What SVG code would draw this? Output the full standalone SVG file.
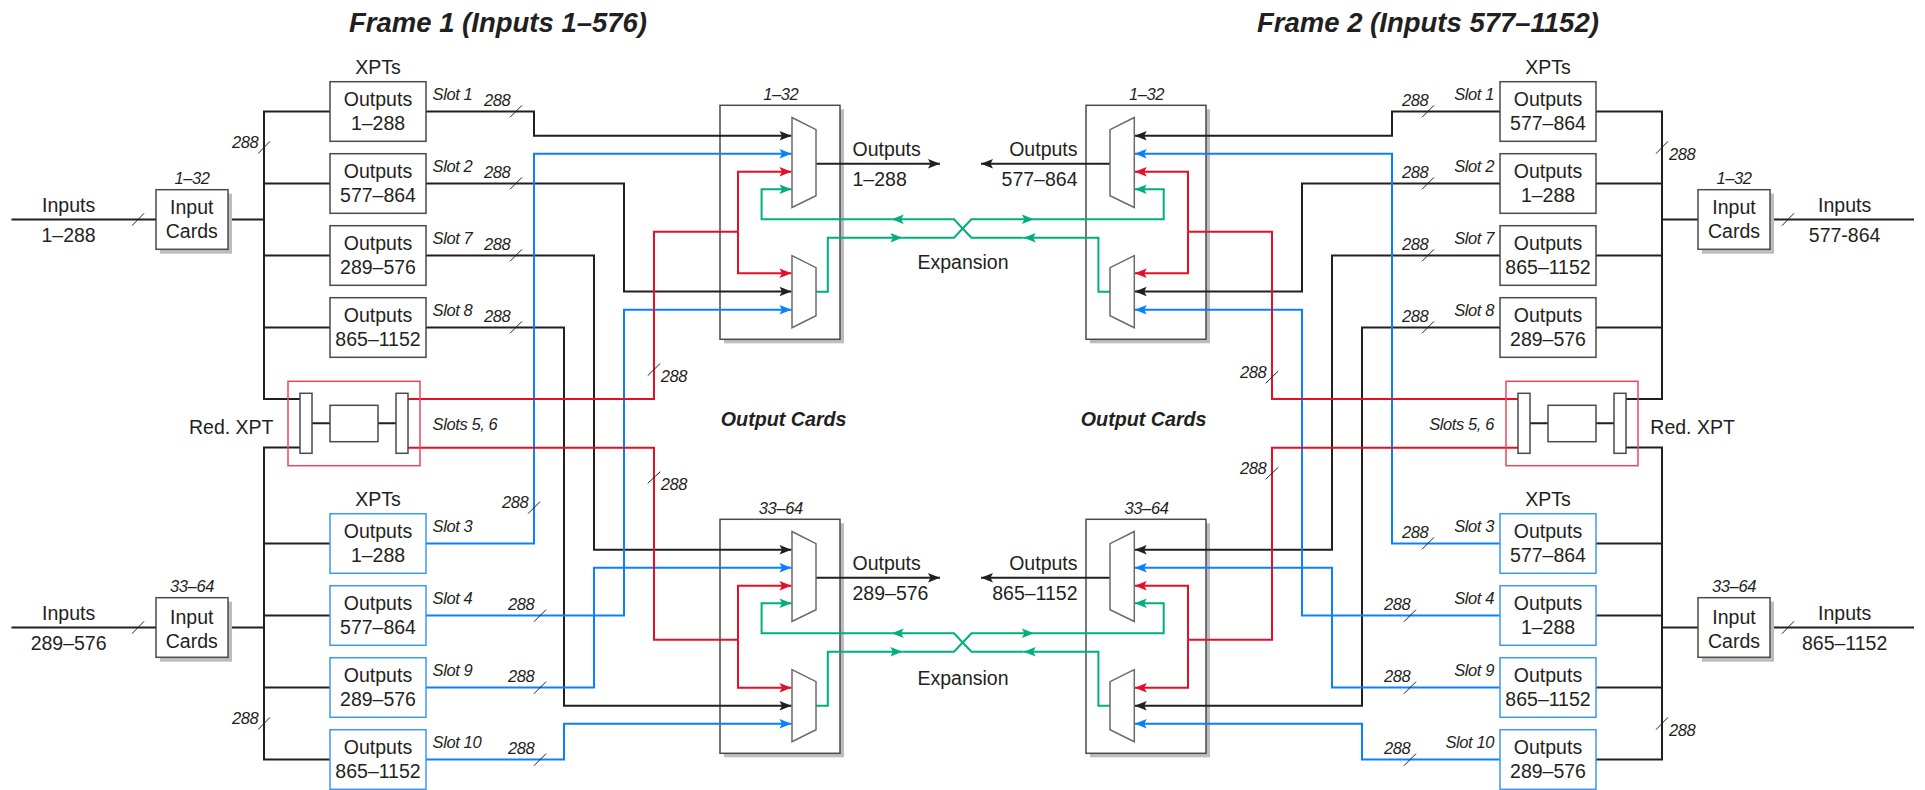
<svg xmlns="http://www.w3.org/2000/svg" width="1925" height="790" viewBox="0 0 1925 790">
<style>
text{font-family:"Liberation Sans",Arial,sans-serif;fill:#231f20;font-size:19.5px}
.m{text-anchor:middle}.e{text-anchor:end}
.i{font-style:italic;font-size:16.5px;letter-spacing:-.4px}
.t{font-style:italic;font-weight:bold;font-size:27.5px}
.oc{font-style:italic;font-weight:bold;font-size:19.7px}
.box{fill:#fff;stroke:#4a4a4a;stroke-width:1.5}
.bb{fill:#fff;stroke:#3d96ff;stroke-width:1.5}
.sh{fill:#bcbdc1}
.mux{fill:#fff;stroke:#6a6a6a;stroke-width:1.5;stroke-linejoin:miter}
.red{fill:none;stroke:#e8485c;stroke-width:1.5}
.w{fill:none;stroke-width:2}
.k{stroke:#231f20}.b{stroke:#0a80ff}.r{stroke:#e60f27}.g{stroke:#00ae80}
.tk{stroke:#231f20;stroke-width:1;fill:none}
</style>
<defs>
<marker id="ak" markerUnits="userSpaceOnUse" markerWidth="14" markerHeight="12" viewBox="-13 -6 14 12" refX="0" refY="0" orient="auto"><path d="M0 0L-12 -4.7L-9.5 0L-12 4.7Z" fill="#231f20"/></marker>
<marker id="ab" markerUnits="userSpaceOnUse" markerWidth="14" markerHeight="12" viewBox="-13 -6 14 12" refX="0" refY="0" orient="auto"><path d="M0 0L-12 -4.7L-9.5 0L-12 4.7Z" fill="#0a80ff"/></marker>
<marker id="ar" markerUnits="userSpaceOnUse" markerWidth="14" markerHeight="12" viewBox="-13 -6 14 12" refX="0" refY="0" orient="auto"><path d="M0 0L-12 -4.7L-9.5 0L-12 4.7Z" fill="#e60f27"/></marker>
<marker id="ag" markerUnits="userSpaceOnUse" markerWidth="14" markerHeight="12" viewBox="-13 -6 14 12" refX="0" refY="0" orient="auto"><path d="M0 0L-12 -4.7L-9.5 0L-12 4.7Z" fill="#00ae80"/></marker>
</defs>
<rect width="1925" height="790" fill="#fff"/>
<g id="titles">
<text class="t" x="349" y="32">Frame 1 (Inputs 1–576)</text>
<text class="t" x="1257" y="32">Frame 2 (Inputs 577–1152)</text>
<text class="oc m" x="783.7" y="426">Output Cards</text>
<text class="oc m" x="1143.7" y="426">Output Cards</text>
</g>
<g id="output-cards">
<g id="card-f1-top"><rect class="sh" x="724" y="109.3" width="120" height="234"/><rect class="box" x="720" y="105.3" width="120" height="234"/><text class="i m" x="780.8" y="100">1–32</text></g>
<g id="card-f2-top"><rect class="sh" x="1090" y="109.3" width="120" height="234"/><rect class="box" x="1086" y="105.3" width="120" height="234"/><text class="i m" x="1146.5" y="100">1–32</text></g>
<g id="card-f1-bot"><rect class="sh" x="724" y="523.3" width="120" height="234"/><rect class="box" x="720" y="519.3" width="120" height="234"/><text class="i m" x="780.8" y="514">33–64</text></g>
<g id="card-f2-bot"><rect class="sh" x="1090" y="523.3" width="120" height="234"/><rect class="box" x="1086" y="519.3" width="120" height="234"/><text class="i m" x="1146.5" y="514">33–64</text></g>
</g>
<g id="connectors">
<g class="w k">
<path d="M11.5 219.5H156M228 219.5H264M11.5 627.5H156M228 627.5H264"/>
<path d="M330 111.5H264V399H300M264 183.5H330M264 255.5H330M264 327.5H330"/>
<path d="M300 447.5H264V759.5H330M264 543.5H330M264 615.5H330M264 687.5H330"/>
<path d="M1914 219.5H1770M1698 219.5H1662M1914 627.5H1770M1698 627.5H1662"/>
<path d="M1596 111.5H1662V399H1626M1662 183.5H1596M1662 255.5H1596M1662 327.5H1596"/>
<path d="M1626 447.5H1662V759.5H1596M1662 543.5H1596M1662 615.5H1596M1662 687.5H1596"/>
<path d="M312 423.3H330M378 423.3H396M1530 423.3H1548M1596 423.3H1614"/>
<path marker-end="url(#ak)" d="M426 111.5H534V135.7H791.5"/>
<path marker-end="url(#ak)" d="M426 183.5H624V291.5H791.5"/>
<path marker-end="url(#ak)" d="M426 255.5H594V549.7H791.5"/>
<path marker-end="url(#ak)" d="M426 327.5H564V705.7H791.5"/>
<path marker-end="url(#ak)" d="M1500 111.5H1392V135.7H1134.7"/>
<path marker-end="url(#ak)" d="M1500 183.5H1302V291.5H1134.7"/>
<path marker-end="url(#ak)" d="M1500 255.5H1332V549.7H1134.7"/>
<path marker-end="url(#ak)" d="M1500 327.5H1362V705.7H1134.7"/>
<path marker-end="url(#ak)" d="M816 163.7H940"/>
<path marker-end="url(#ak)" d="M1110 163.7H981"/>
<path marker-end="url(#ak)" d="M816 577.7H940"/>
<path marker-end="url(#ak)" d="M1110 577.7H981"/>
</g>
<g class="w b" marker-end="url(#ab)">
<path d="M426 543.5H534V153.7H791.5"/>
<path d="M426 615.5H624V309.7H791.5"/>
<path d="M426 687.5H594V567.7H791.5"/>
<path d="M426 759.5H564V723.7H791.5"/>
<path d="M1500 543.5H1392V153.7H1134.7"/>
<path d="M1500 615.5H1302V309.7H1134.7"/>
<path d="M1500 687.5H1332V567.7H1134.7"/>
<path d="M1500 759.5H1362V723.7H1134.7"/>
</g>
<g class="w r">
<path d="M408 399H654V231.7H738"/>
<path d="M408 447.7H654V639.7H738"/>
<path d="M1518 399H1272V231.7H1188"/>
<path d="M1518 447.7H1272V639.7H1188"/>
<path marker-end="url(#ar)" d="M738 231.7V171.7H791.5"/>
<path marker-end="url(#ar)" d="M738 231.7V273.3H791.5"/>
<path marker-end="url(#ar)" d="M738 639.7V585.7H791.5"/>
<path marker-end="url(#ar)" d="M738 639.7V687.7H791.5"/>
<path marker-end="url(#ar)" d="M1188 231.7V171.7H1134.7"/>
<path marker-end="url(#ar)" d="M1188 231.7V273.3H1134.7"/>
<path marker-end="url(#ar)" d="M1188 639.7V585.7H1134.7"/>
<path marker-end="url(#ar)" d="M1188 639.7V687.7H1134.7"/>
</g>
<g class="w g" marker-end="url(#ag)">
<path d="M1110 291.7H1098.4V237.7H1023.7"/>
<path d="M1023.7 237.7H971.4L954 219.3H891.7"/>
<path d="M891.7 219.3H761.6V189.3H791.5"/>
<path d="M816 291.7H827.8V237.7H902.4"/>
<path d="M902.4 237.7H954L971.4 219.3H1033.9"/>
<path d="M1033.9 219.3H1163.7V189.3H1134.7"/>
<path d="M1110 705.7H1098.4V651.7H1023.7"/>
<path d="M1023.7 651.7H971.4L954 633.3H891.7"/>
<path d="M891.7 633.3H761.6V603.3H791.5"/>
<path d="M816 705.7H827.8V651.7H902.4"/>
<path d="M902.4 651.7H954L971.4 633.3H1033.9"/>
<path d="M1033.9 633.3H1163.7V603.3H1134.7"/>
</g>
<path class="tk" d="M132 225.7L144 213.3M132 633.7L144 621.3M1782 225.7L1794 213.3M1782 633.7L1794 621.3
M258 153.7L270 141.3M258 729.7L270 717.3M1656 153.7L1668 141.3M1656 729.7L1668 717.3
M510 117.3L522 105.3M510 189.3L522 177.3M510 261.3L522 249.3M510 333.3L522 321.3
M528 513.7L540 501.7M534 621.7L546 609.7M534 693.7L546 681.7M534 765.7L546 753.7
M1422 117.3L1434 105.3M1422 189.3L1434 177.3M1422 261.3L1434 249.3M1422 333.3L1434 321.3
M1422 549.3L1434 537.3M1404 621.7L1416 609.7M1404 693.7L1416 681.7M1404 765.7L1416 753.7
M647.7 375.7L660.3 363.3M647.7 483.3L660.3 471.7M1265.7 383.3L1278.3 371M1265.7 479.3L1278.3 467.3"/>
</g>
<g id="muxes">
<polygon id="mux-1" class="mux" points="792,117.5 816,129.7 816,195.7 792,207.5"/>
<polygon id="mux-2" class="mux" points="792,255.7 816,267.7 816,315.7 792,327.7"/>
<polygon id="mux-3" class="mux" points="1134.3,117.5 1110,129.7 1110,195.7 1134.3,207.5"/>
<polygon id="mux-4" class="mux" points="1134.3,255.7 1110,267.7 1110,315.7 1134.3,327.7"/>
<polygon id="mux-5" class="mux" points="792,531.5 816,543.7 816,609.7 792,621.5"/>
<polygon id="mux-6" class="mux" points="792,669.7 816,681.7 816,729.7 792,741.7"/>
<polygon id="mux-7" class="mux" points="1134.3,531.5 1110,543.7 1110,609.7 1134.3,621.5"/>
<polygon id="mux-8" class="mux" points="1134.3,669.7 1110,681.7 1110,729.7 1134.3,741.7"/>
</g>
<g id="input-cards">
<g id="in-f1-top"><rect class="sh" x="160" y="193.7" width="72" height="60"/><rect class="box" x="156" y="189.7" width="72" height="59.6"/><text class="m" x="191.8" y="214">Input</text><text class="m" x="191.8" y="238">Cards</text><text class="i m" x="192" y="184">1–32</text></g>
<g id="in-f1-bot"><rect class="sh" x="160" y="601.7" width="72" height="60"/><rect class="box" x="156" y="597.7" width="72" height="59.6"/><text class="m" x="191.8" y="624.3">Input</text><text class="m" x="191.8" y="648">Cards</text><text class="i m" x="192" y="592">33–64</text></g>
<g id="in-f2-top"><rect class="sh" x="1702" y="193.7" width="72" height="60"/><rect class="box" x="1698" y="189.7" width="72" height="59.6"/><text class="m" x="1734" y="214">Input</text><text class="m" x="1734" y="238">Cards</text><text class="i m" x="1734" y="184">1–32</text></g>
<g id="in-f2-bot"><rect class="sh" x="1702" y="601.7" width="72" height="60"/><rect class="box" x="1698" y="597.7" width="72" height="59.6"/><text class="m" x="1734" y="624.3">Input</text><text class="m" x="1734" y="648">Cards</text><text class="i m" x="1734" y="592">33–64</text></g>
</g>
<g id="xpts-f1">
<g id="f1-s1"><rect class="box" x="330" y="81.7" width="96" height="59.6"/><text class="m" x="378" y="106">Outputs</text><text class="m" x="378" y="130">1–288</text></g>
<g id="f1-s2"><rect class="box" x="330" y="153.7" width="96" height="59.6"/><text class="m" x="378" y="178">Outputs</text><text class="m" x="378" y="202">577–864</text></g>
<g id="f1-s7"><rect class="box" x="330" y="225.7" width="96" height="59.6"/><text class="m" x="378" y="250">Outputs</text><text class="m" x="378" y="274">289–576</text></g>
<g id="f1-s8"><rect class="box" x="330" y="297.7" width="96" height="59.6"/><text class="m" x="378" y="322">Outputs</text><text class="m" x="378" y="346">865–1152</text></g>
<g id="f1-s3"><rect class="bb" x="330" y="513.7" width="96" height="59.6"/><text class="m" x="378" y="538">Outputs</text><text class="m" x="378" y="562">1–288</text></g>
<g id="f1-s4"><rect class="bb" x="330" y="585.7" width="96" height="59.6"/><text class="m" x="378" y="610">Outputs</text><text class="m" x="378" y="634">577–864</text></g>
<g id="f1-s9"><rect class="bb" x="330" y="657.7" width="96" height="59.6"/><text class="m" x="378" y="682">Outputs</text><text class="m" x="378" y="706">289–576</text></g>
<g id="f1-s10"><rect class="bb" x="330" y="729.7" width="96" height="59.6"/><text class="m" x="378" y="754">Outputs</text><text class="m" x="378" y="778">865–1152</text></g>
</g>
<g id="xpts-f2">
<g id="f2-s1"><rect class="box" x="1500" y="81.7" width="96" height="59.6"/><text class="m" x="1548" y="106">Outputs</text><text class="m" x="1548" y="130">577–864</text></g>
<g id="f2-s2"><rect class="box" x="1500" y="153.7" width="96" height="59.6"/><text class="m" x="1548" y="178">Outputs</text><text class="m" x="1548" y="202">1–288</text></g>
<g id="f2-s7"><rect class="box" x="1500" y="225.7" width="96" height="59.6"/><text class="m" x="1548" y="250">Outputs</text><text class="m" x="1548" y="274">865–1152</text></g>
<g id="f2-s8"><rect class="box" x="1500" y="297.7" width="96" height="59.6"/><text class="m" x="1548" y="322">Outputs</text><text class="m" x="1548" y="346">289–576</text></g>
<g id="f2-s3"><rect class="bb" x="1500" y="513.7" width="96" height="59.6"/><text class="m" x="1548" y="538">Outputs</text><text class="m" x="1548" y="562">577–864</text></g>
<g id="f2-s4"><rect class="bb" x="1500" y="585.7" width="96" height="59.6"/><text class="m" x="1548" y="610">Outputs</text><text class="m" x="1548" y="634">1–288</text></g>
<g id="f2-s9"><rect class="bb" x="1500" y="657.7" width="96" height="59.6"/><text class="m" x="1548" y="682">Outputs</text><text class="m" x="1548" y="706">865–1152</text></g>
<g id="f2-s10"><rect class="bb" x="1500" y="729.7" width="96" height="59.6"/><text class="m" x="1548" y="754">Outputs</text><text class="m" x="1548" y="778">289–576</text></g>
</g>
<g id="red-xpt-f1">
<rect class="red" x="288" y="381.3" width="132" height="84.4"/>
<rect class="box" x="300" y="393.3" width="12" height="60"/><rect class="box" x="396" y="393.3" width="12" height="60"/><rect class="box" x="330" y="405.3" width="48" height="36.4"/>
</g>
<g id="red-xpt-f2">
<rect class="red" x="1506" y="381.3" width="132" height="84.4"/>
<rect class="box" x="1518" y="393.3" width="12" height="60"/><rect class="box" x="1614" y="393.3" width="12" height="60"/><rect class="box" x="1548" y="405.3" width="48" height="36.4"/>
</g>
<g id="labels">
<text class="m" x="378" y="74">XPTs</text><text class="m" x="378" y="506">XPTs</text>
<text class="m" x="1548" y="74">XPTs</text><text class="m" x="1548" y="506">XPTs</text>
<text class="m" x="68.6" y="212">Inputs</text><text class="m" x="68.6" y="241.7">1–288</text>
<text class="m" x="68.6" y="620">Inputs</text><text class="m" x="68.6" y="649.7">289–576</text>
<text class="m" x="1844.6" y="212">Inputs</text><text class="m" x="1844.6" y="241.7">577-864</text>
<text class="m" x="1844.6" y="620">Inputs</text><text class="m" x="1844.6" y="649.7">865–1152</text>
<text x="189" y="434">Red. XPT</text><text x="1650.3" y="434">Red. XPT</text>
<text x="852.5" y="156">Outputs</text><text x="852.5" y="186">1–288</text>
<text class="e" x="1077.5" y="156">Outputs</text><text class="e" x="1077.5" y="186">577–864</text>
<text x="852.5" y="570">Outputs</text><text x="852.5" y="600">289–576</text>
<text class="e" x="1077.5" y="570">Outputs</text><text class="e" x="1077.5" y="600">865–1152</text>
<text class="m" x="963" y="269">Expansion</text><text class="m" x="963" y="685">Expansion</text>
<text class="i" x="432.6" y="100">Slot 1</text><text class="i" x="432.6" y="172">Slot 2</text><text class="i" x="432.6" y="244">Slot 7</text><text class="i" x="432.6" y="316">Slot 8</text>
<text class="i" x="432.6" y="532">Slot 3</text><text class="i" x="432.6" y="604">Slot 4</text><text class="i" x="432.6" y="676">Slot 9</text><text class="i" x="432.6" y="748">Slot 10</text>
<text class="i" x="432.6" y="430">Slots 5, 6</text>
<text class="i e" x="1494" y="100">Slot 1</text><text class="i e" x="1494" y="172">Slot 2</text><text class="i e" x="1494" y="244">Slot 7</text><text class="i e" x="1494" y="316">Slot 8</text>
<text class="i e" x="1494" y="532">Slot 3</text><text class="i e" x="1494" y="604">Slot 4</text><text class="i e" x="1494" y="676">Slot 9</text><text class="i e" x="1494" y="748">Slot 10</text>
<text class="i e" x="1494" y="430">Slots 5, 6</text>
<text class="i" x="484" y="105.5">288</text><text class="i" x="484" y="177.5">288</text><text class="i" x="484" y="249.5">288</text><text class="i" x="484" y="321.5">288</text>
<text class="i" x="502" y="508.3">288</text><text class="i" x="508" y="610">288</text><text class="i" x="508" y="682">288</text><text class="i" x="508" y="754">288</text>
<text class="i" x="1402" y="105.5">288</text><text class="i" x="1402" y="177.5">288</text><text class="i" x="1402" y="249.5">288</text><text class="i" x="1402" y="321.5">288</text>
<text class="i" x="1402" y="537.7">288</text><text class="i" x="1384" y="610">288</text><text class="i" x="1384" y="682">288</text><text class="i" x="1384" y="754">288</text>
<text class="i" x="232" y="147.7">288</text><text class="i" x="232" y="724">288</text>
<text class="i" x="1669" y="160">288</text><text class="i" x="1669" y="736">288</text>
<text class="i" x="660.7" y="382">288</text><text class="i" x="660.7" y="490">288</text>
<text class="i" x="1240" y="378.3">288</text><text class="i" x="1240" y="474.3">288</text>
</g>
</svg>
